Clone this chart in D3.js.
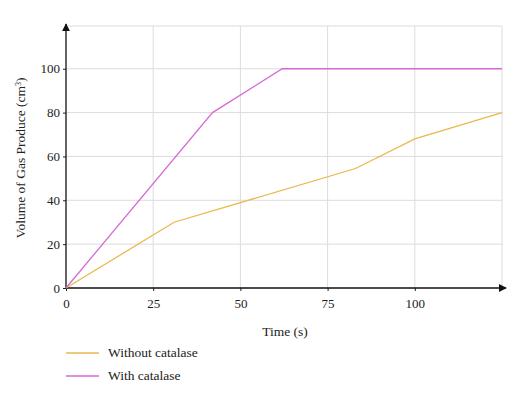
<!DOCTYPE html>
<html>
<head>
<meta charset="utf-8">
<script src="https://cdn.jsdelivr.net/npm/d3@7"></script>
<style>
  body { margin: 0; background: #fff; }
  svg text { font-family: "Liberation Serif", "DejaVu Serif", serif; fill: #222; }
</style>
</head>
<body>
<div id="chart"></div>
<script>
// data
const seriesNames = ["Without catalase", "With catalase"];
const colors = ["#e8b94c", "#d66bd3"];
const withoutTime = [0, 31, 83, 100, 125];
const withoutVol = [0, 30, 54.5, 68, 80];
const withTime = [0, 42, 62, 125];
const withVol = [0, 80, 100, 100];
const xTicks = [0, 25, 50, 75, 100];
const yTicks = [0, 20, 40, 60, 80, 100];

const W = 525, H = 398;
const margin = { top: 26, right: 23, bottom: 110, left: 66 };
const width = W - margin.left - margin.right,
  height = H - margin.top - margin.bottom;

const svg = d3.select("#chart").append("svg")
  .attr("width", W).attr("height", H);

const defs = svg.append("defs");
defs.append("marker")
  .attr("id", "arrow")
  .attr("viewBox", "0 0 10 10")
  .attr("refX", 9).attr("refY", 5)
  .attr("markerWidth", 8).attr("markerHeight", 8)
  .attr("markerUnits", "userSpaceOnUse")
  .attr("orient", "auto")
  .append("path").attr("d", "M0,0 L10,5 L0,10 z").attr("fill", "#111");

const g = svg.append("g").attr("transform", `translate(${margin.left},${margin.top})`);

const x = d3.scaleLinear().domain([0, 125]).range([0, width]);
const y = d3.scaleLinear().domain([0, 119.5]).range([height, 0]);

// grid
g.append("g").selectAll("line").data(xTicks.slice(1).concat([125]))
  .join("line")
  .attr("x1", d => x(d)).attr("x2", d => x(d))
  .attr("y1", 0).attr("y2", height)
  .attr("stroke", "#dcdcdc").attr("stroke-width", 1);
g.append("g").selectAll("line").data(yTicks.slice(1).concat([119.5]))
  .join("line")
  .attr("x1", 0).attr("x2", width)
  .attr("y1", d => y(d)).attr("y2", d => y(d))
  .attr("stroke", "#dcdcdc").attr("stroke-width", 1);

// axes
const xAxis = g.append("g").attr("transform", `translate(0,${height})`)
  .call(d3.axisBottom(x).tickValues(xTicks).tickSize(3).tickSizeOuter(0));
const yAxis = g.append("g")
  .call(d3.axisLeft(y).tickValues(yTicks).tickSize(3).tickSizeOuter(0));
[xAxis, yAxis].forEach(a => {
  a.attr("font-family", "Liberation Serif").attr("font-size", 13);
  a.select(".domain").remove();
  a.selectAll("line").attr("stroke", "#222");
  a.selectAll("text").attr("fill", "#222");
});
xAxis.selectAll("text").attr("dy", "1.1em");
yAxis.selectAll("text").attr("x", -6);

g.append("line")
  .attr("x1", 0).attr("x2", width + 4)
  .attr("y1", height).attr("y2", height)
  .attr("stroke", "#111").attr("stroke-width", 1.3)
  .attr("marker-end", "url(#arrow)");
g.append("line")
  .attr("x1", 0).attr("x2", 0)
  .attr("y1", height).attr("y2", -2)
  .attr("stroke", "#111").attr("stroke-width", 1.3)
  .attr("marker-end", "url(#arrow)");

// lines
const line = d3.line().x(d => x(d[0])).y(d => y(d[1]));
const series = [
  d3.zip(withoutTime, withoutVol),
  d3.zip(withTime, withVol)
];
series.forEach((s, i) => {
  g.append("path").datum(s)
    .attr("fill", "none")
    .attr("stroke", colors[i])
    .attr("stroke-width", 1.3)
    .attr("d", line);
});

// axis titles
svg.append("text")
  .attr("x", 285).attr("y", 336)
  .attr("text-anchor", "middle")
  .style("font-size", "13.5px")
  .text("Time (s)");

const yl = svg.append("text")
  .attr("transform", "translate(25,158) rotate(-90)")
  .attr("text-anchor", "middle")
  .style("font-size", "13.5px");
yl.append("tspan").text("Volume of Gas Produce (cm");
yl.append("tspan").attr("baseline-shift", "super").style("font-size", "8px").text("3");
yl.append("tspan").text(")");

// legend
const legend = svg.append("g").attr("transform", "translate(66,353)");
seriesNames.forEach((n, i) => {
  const row = legend.append("g").attr("transform", `translate(0,${i * 23})`);
  row.append("line").attr("x1", 0).attr("x2", 33).attr("y1", 0).attr("y2", 0)
    .attr("stroke", colors[i]).attr("stroke-width", 1.3);
  row.append("text").attr("x", 42).attr("y", 4).style("font-size", "13.5px").text(n);
});
</script>
</body>
</html>
